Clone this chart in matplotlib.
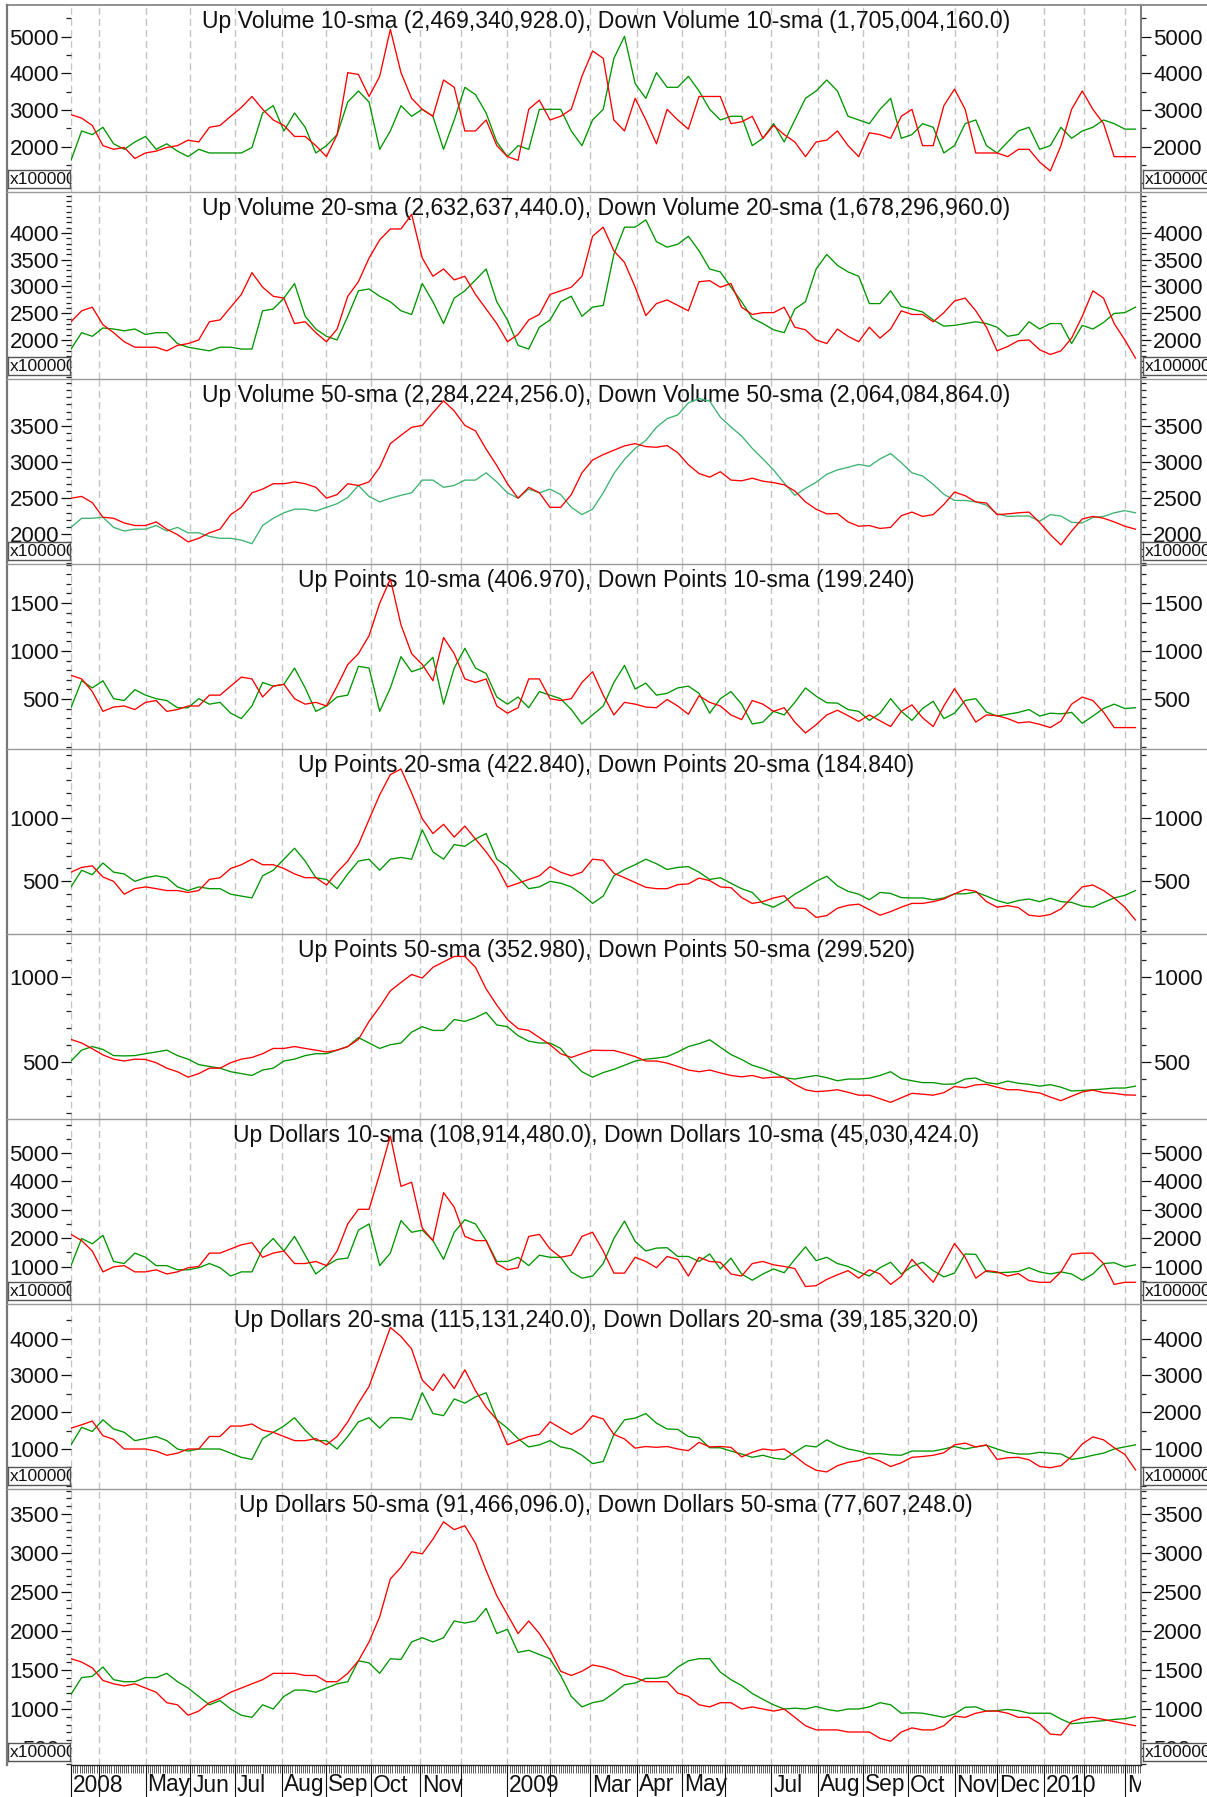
import numpy as np
import pandas as pd
import matplotlib
matplotlib.use('Agg')
import matplotlib.pyplot as plt
from matplotlib.ticker import FixedLocator, MultipleLocator
from matplotlib.lines import Line2D

plt.rcParams['font.family'] = ['Liberation Sans', 'DejaVu Sans']

# ---------------- data (sampled every 5 trading days) ----------------
up_vol_10 = [1630, 2430, 2330, 2530, 2080, 1930, 2130, 2280, 1930, 2080, 1880, 1730, 1930, 1830, 1830, 1830, 1830, 1980, 2920, 3120,
             2430, 2920, 2530, 1830, 2030, 2330, 3220, 3520, 3220, 1930, 2430, 3120, 2830, 3020, 2830, 1930, 2730, 3620, 3420, 2920,
             2130, 1730, 2030, 1930, 3020, 3020, 3020, 2430, 2030, 2730,
             3020, 4410, 5010, 3720, 3320, 4020, 3620, 3620, 3920, 3520, 3020, 2730, 2830, 2830, 2030, 2230, 2630, 2130, 2730, 3320,
             3520, 3820, 3520, 2830, 2730, 2630, 3020, 3320, 2230, 2330, 2630, 2530, 1830, 2030, 2630, 2730, 2030, 1830, 2130, 2430,
             2530, 1930, 2030, 2530, 2230, 2430, 2530, 2730, 2630, 2480, 2480]
down_vol_10 = [2875, 2780, 2580, 2030, 1930, 1980, 1680, 1830, 1880, 1980, 2030, 2180, 2130, 2530, 2580, 2830, 3070, 3370, 3020, 2730,
               2580, 2280, 2280, 2030, 1730, 2330, 4020, 3970, 3370, 3920, 5200, 4020, 3320, 3020, 2830, 3820, 3620, 2430, 2430, 2730,
               2030, 1730, 1630, 3020, 3270, 2730, 2830, 3020, 3920, 4610,
               4410, 2730, 2430, 3320, 2730, 2080, 3020, 2730, 2480, 3370, 3370, 3370, 2630, 2680, 2830, 2230, 2580, 2330, 2130, 1730,
               2130, 2180, 2430, 2030, 1730, 2380, 2330, 2230, 2830, 3020, 2030, 2030, 3120, 3570, 3020, 1830, 1830, 1830, 1730, 1930,
               1930, 1580, 1340, 2030, 3020, 3520, 3020, 2630, 1730, 1730, 1730]

up_vol_20 = [1831, 2137, 2069, 2225, 2205, 2171, 2205, 2103, 2137, 2137, 1933, 1865, 1831, 1797, 1865, 1865, 1831, 1831, 2545, 2579,
             2783, 3055, 2443, 2205, 2069, 2001, 2443, 2919, 2953, 2817, 2715, 2545, 2477, 3055, 2715, 2307, 2783, 2919, 3123, 3327,
             2715, 2375, 1899, 1831, 2239, 2375, 2715, 2817, 2443, 2613,
             2647, 3599, 4109, 4109, 4245, 3837, 3735, 3789, 3939, 3667, 3327, 3272, 2987, 2715, 2409, 2307, 2191, 2137, 2579, 2715,
             3327, 3599, 3395, 3272, 3191, 2681, 2681, 2919, 2626, 2579, 2524, 2375, 2259, 2273, 2307, 2341, 2307, 2239, 2069, 2103,
             2341, 2205, 2307, 2307, 1933, 2273, 2205, 2327, 2497, 2511, 2613]
down_vol_20 = [2341, 2545, 2613, 2286, 2137, 1967, 1865, 1865, 1865, 1797, 1899, 1933, 2001, 2341, 2375, 2613, 2851, 3259, 2987, 2817,
               2783, 2307, 2341, 2137, 1967, 2205, 2817, 3089, 3531, 3871, 4075, 4075, 4347, 3531, 3191, 3327, 3123, 3191, 2851, 2579,
               2307, 1967, 2103, 2375, 2477, 2851, 2919, 2987, 3191, 3939,
               4109, 3667, 3449, 2987, 2456, 2681, 2749, 2647, 2545, 3089, 3109, 2987, 3055, 2613, 2477, 2511, 2511, 2613, 2239, 2191,
               2001, 1933, 2205, 2069, 1967, 2239, 2035, 2205, 2545, 2477, 2477, 2341, 2511, 2729, 2783, 2545, 2239, 1797, 1879, 1987,
               2001, 1817, 1729, 1797, 2035, 2443, 2919, 2783, 2307, 2001, 1661]

up_vol_50 = [2096, 2222, 2222, 2237, 2096, 2046, 2071, 2071, 2122, 2046, 2096, 2021, 2021, 1971, 1945, 1945, 1920, 1870, 2122, 2222,
             2298, 2348, 2348, 2323, 2374, 2424, 2510, 2676, 2525, 2449, 2500, 2540, 2575, 2751, 2751, 2651, 2676, 2751, 2751, 2852,
             2726, 2575, 2500, 2626, 2575, 2626, 2550, 2374, 2273, 2348,
             2575, 2842, 3038, 3190, 3300, 3482, 3603, 3653, 3820, 3880, 3845, 3623, 3487, 3361, 3190, 3044, 2892, 2711, 2540, 2636,
             2721, 2832, 2892, 2928, 2968, 2943, 3044, 3119, 2993, 2852, 2807, 2691, 2555, 2469, 2469, 2449, 2404, 2283, 2248, 2253,
             2253, 2182, 2273, 2253, 2167, 2157, 2233, 2248, 2298, 2328, 2298]
down_vol_50 = [2500, 2525, 2439, 2237, 2222, 2157, 2122, 2122, 2172, 2071, 1996, 1895, 1945, 2021, 2071, 2273, 2374, 2575, 2626, 2701,
               2701, 2726, 2701, 2651, 2500, 2550, 2701, 2676, 2726, 2928, 3256, 3371, 3482, 3508, 3684, 3850, 3709, 3508, 3432, 3180,
               2953, 2701, 2500, 2651, 2575, 2374, 2374, 2550, 2852, 3029,
               3104, 3165, 3225, 3256, 3215, 3205, 3230, 3130, 2963, 2842, 2792, 2867, 2751, 2741, 2777, 2736, 2716, 2686, 2600, 2449,
               2348, 2283, 2288, 2172, 2112, 2122, 2081, 2096, 2258, 2308, 2248, 2273, 2414, 2585, 2535, 2449, 2434, 2273, 2283, 2298,
               2308, 2162, 1996, 1854, 2046, 2213, 2248, 2223, 2172, 2112, 2071]

up_pts_10 = [409, 690, 615, 690, 503, 484, 597, 540, 503, 484, 409, 409, 503, 446, 465, 352, 296, 427, 672, 634,
             653, 822, 615, 371, 427, 521, 540, 840, 822, 371, 615, 941, 784, 822, 934, 446, 822, 1028, 822, 765,
             521, 446, 521, 409, 577, 540, 503, 390, 240, 334,
             427, 672, 850, 604, 665, 540, 559, 615, 634, 559, 352, 503, 577, 446, 240, 259, 371, 334, 465, 615,
             529, 461, 457, 390, 371, 277, 352, 503, 371, 277, 401, 476, 296, 352, 484, 503, 364, 322, 341, 360,
             390, 322, 352, 345, 360, 247, 322, 401, 446, 401, 409]
down_pts_10 = [747, 709, 578, 371, 416, 427, 390, 465, 484, 371, 390, 427, 427, 540, 540, 634, 728, 709, 521, 634,
               653, 503, 446, 465, 427, 634, 859, 972, 1159, 1497, 1750, 1272, 972, 859, 690, 1140, 972, 709, 672, 709,
               427, 352, 409, 709, 709, 503, 484, 503, 672, 784,
               540, 334, 465, 446, 416, 409, 495, 427, 341, 533, 465, 427, 334, 285, 484, 446, 371, 409, 259, 146,
               232, 334, 383, 326, 266, 334, 273, 213, 371, 439, 304, 213, 427, 607, 439, 259, 334, 326, 296, 251,
               262, 236, 202, 270, 446, 520, 484, 363, 202, 202, 202]

up_pts_20 = [453, 585, 550, 643, 570, 556, 497, 526, 541, 526, 453, 424, 453, 439, 439, 395, 380, 366, 541, 585,
             673, 760, 658, 526, 512, 439, 556, 658, 673, 585, 673, 687, 673, 906, 731, 673, 789, 775, 833, 877,
             673, 614, 526, 439, 453, 497, 482, 453, 395, 322,
             380, 541, 591, 629, 673, 637, 591, 608, 614, 570, 512, 526, 482, 439, 409, 322, 292, 336, 395, 444,
             497, 538, 462, 418, 395, 351, 409, 401, 368, 365, 365, 351, 365, 398, 398, 412, 380, 345, 322, 345,
             357, 336, 363, 336, 330, 301, 292, 330, 365, 386, 424]
down_pts_20 = [570, 608, 620, 532, 497, 395, 439, 453, 439, 424, 424, 409, 424, 512, 526, 599, 629, 673, 629, 629,
               599, 556, 526, 526, 468, 570, 658, 789, 988, 1184, 1345, 1389, 1199, 994, 877, 950, 848, 936, 833, 731,
               614, 453, 482, 512, 541, 614, 570, 541, 570, 673,
               664, 561, 526, 488, 450, 439, 439, 471, 477, 523, 503, 453, 447, 368, 322, 336, 365, 383, 287, 281,
               211, 225, 284, 307, 316, 272, 228, 257, 292, 322, 322, 336, 357, 398, 433, 418, 336, 292, 304, 289,
               228, 219, 234, 278, 365, 453, 468, 424, 365, 292, 190]

up_pts_50 = [506, 570, 591, 574, 538, 536, 538, 549, 559, 570, 538, 517, 485, 474, 464, 443, 432, 421, 453, 464,
             506, 517, 538, 549, 549, 570, 591, 644, 612, 580, 602, 612, 676, 708, 686, 686, 750, 739, 761, 792,
             718, 708, 655, 623, 612, 612, 580, 506, 443, 411,
             438, 457, 481, 506, 517, 523, 532, 559, 591, 608, 631, 587, 544, 515, 481, 462, 438, 408, 400, 411,
             421, 408, 390, 400, 400, 405, 421, 443, 402, 390, 379, 379, 369, 371, 400, 406, 379, 371, 388, 375,
             369, 358, 367, 352, 330, 333, 337, 341, 347, 347, 358]
down_pts_50 = [633, 612, 578, 542, 517, 506, 517, 515, 496, 464, 443, 411, 432, 464, 464, 496, 517, 527, 549, 580,
               580, 591, 580, 570, 559, 570, 591, 633, 739, 824, 919, 968, 1015, 994, 1057, 1089, 1121, 1121, 1057, 930,
               835, 750, 697, 686, 644, 602, 549, 527, 549, 570,
               568, 568, 551, 532, 506, 506, 494, 474, 453, 443, 453, 436, 421, 413, 421, 405, 411, 411, 369, 337,
               326, 330, 337, 322, 305, 305, 284, 263, 290, 316, 311, 305, 320, 356, 349, 366, 369, 352, 337, 337,
               326, 318, 294, 273, 299, 324, 335, 320, 316, 307, 305]

up_dol_10 = [1031, 1987, 1800, 2100, 1178, 1105, 1472, 1325, 1031, 1031, 884, 884, 958, 1105, 958, 664, 811, 811, 1619, 1987,
             1546, 2060, 1399, 737, 1031, 1252, 1296, 2281, 2501, 1031, 1472, 2619, 2207, 2281, 1913, 1252, 2207, 2648, 2501, 1913,
             1178, 1178, 1325, 1031, 1399, 1325, 1325, 811, 590, 664,
             1105, 1987, 2600, 1884, 1546, 1649, 1663, 1354, 1354, 1178, 1443, 913, 1296, 737, 516, 737, 913, 781, 1252, 1693,
             1207, 1325, 1105, 1002, 811, 664, 958, 1149, 737, 1002, 1149, 855, 634, 767, 1443, 1428, 825, 781, 796, 825,
             958, 811, 737, 811, 737, 516, 737, 1105, 1134, 987, 1060]
down_dol_10 = [2134, 1913, 1546, 811, 987, 1031, 811, 811, 884, 737, 811, 958, 1002, 1472, 1472, 1619, 1766, 1840, 1325, 1472,
               1546, 1105, 1105, 1178, 1031, 1546, 2501, 3016, 3016, 4265, 5600, 3824, 3971, 2354, 1913, 3604, 3089, 2060, 1913, 1913,
               1105, 884, 958, 2060, 2134, 1619, 1325, 1399, 2060, 2207,
               1546, 767, 767, 1325, 1178, 958, 1354, 1252, 664, 1325, 1178, 1149, 737, 664, 1105, 1178, 1060, 1002, 928, 296,
               325, 546, 708, 855, 590, 884, 737, 370, 649, 1252, 840, 443, 1105, 1810, 1325, 590, 855, 811, 664, 752,
               502, 443, 443, 811, 1428, 1472, 1472, 1105, 370, 443, 443]

up_dol_20 = [1113, 1589, 1476, 1793, 1544, 1453, 1227, 1283, 1340, 1227, 1000, 944, 1000, 1000, 1000, 887, 774, 717, 1283, 1453,
             1623, 1849, 1510, 1227, 1227, 1000, 1340, 1736, 1849, 1566, 1849, 1849, 1793, 2528, 1962, 1906, 2359, 2245, 2415, 2528,
             1793, 1566, 1283, 1057, 1113, 1227, 1057, 1000, 830, 604,
             661, 1396, 1793, 1838, 1962, 1702, 1544, 1532, 1340, 1306, 1034, 1034, 944, 864, 774, 830, 751, 717, 910, 1091,
             1057, 1249, 1102, 1000, 944, 864, 876, 842, 830, 944, 944, 944, 1000, 1068, 1000, 1057, 1102, 1000, 910, 864,
             864, 910, 887, 864, 717, 762, 830, 887, 1000, 1057, 1113]
down_dol_20 = [1566, 1657, 1759, 1362, 1261, 1000, 1000, 1000, 944, 830, 887, 1000, 1000, 1340, 1340, 1623, 1623, 1679, 1510, 1453,
               1340, 1227, 1227, 1283, 1113, 1340, 1736, 2245, 2698, 3491, 4300, 4057, 3717, 2868, 2585, 3038, 2642, 3151, 2585, 2132,
               1793, 1113, 1227, 1340, 1396, 1736, 1566, 1396, 1566, 1906,
               1815, 1396, 1272, 1023, 1068, 1045, 1068, 1000, 955, 1181, 1057, 1068, 1045, 785, 910, 1000, 966, 1000, 808, 581,
               423, 378, 547, 638, 683, 774, 672, 525, 627, 774, 796, 830, 898, 1113, 1159, 1057, 1113, 717, 762, 774,
               706, 525, 491, 547, 796, 1136, 1329, 1249, 1034, 853, 434]

up_dol_50 = [1188, 1403, 1419, 1538, 1376, 1350, 1350, 1403, 1403, 1457, 1350, 1269, 1161, 1054, 1108, 1000, 920, 893, 1054, 1000,
             1161, 1242, 1242, 1215, 1269, 1323, 1350, 1618, 1591, 1457, 1645, 1635, 1860, 1914, 1860, 1914, 2129, 2102, 2129, 2290,
             1968, 2022, 1726, 1753, 1699, 1645, 1430, 1161, 1027, 1081,
             1108, 1204, 1312, 1333, 1393, 1393, 1419, 1538, 1618, 1645, 1645, 1473, 1376, 1301, 1199, 1124, 1054, 1000, 1011, 1000,
             1032, 995, 973, 1000, 1000, 1027, 1081, 1054, 946, 952, 946, 920, 893, 936, 1022, 1027, 973, 979, 995, 979,
             946, 946, 946, 871, 812, 823, 839, 850, 866, 876, 903]
down_dol_50 = [1645, 1602, 1527, 1366, 1323, 1296, 1323, 1269, 1215, 1081, 1054, 920, 973, 1081, 1135, 1215, 1269, 1323, 1376, 1457,
               1457, 1457, 1430, 1430, 1350, 1350, 1457, 1618, 1860, 2183, 2667, 2817, 3016, 2989, 3177, 3400, 3300, 3350, 3124, 2774,
               2452, 2210, 1968, 2129, 1968, 1753, 1484, 1430, 1484, 1565,
               1538, 1495, 1430, 1403, 1350, 1350, 1350, 1204, 1161, 1054, 1027, 1081, 1081, 1000, 1027, 1000, 973, 1000, 893, 785,
               732, 732, 732, 705, 705, 705, 624, 586, 705, 758, 732, 732, 785, 909, 893, 946, 973, 973, 946, 893,
               893, 812, 678, 667, 839, 882, 893, 866, 839, 812, 785]

titles = [
    "Up Volume 10-sma (2,469,340,928.0), Down Volume 10-sma (1,705,004,160.0)",
    "Up Volume 20-sma (2,632,637,440.0), Down Volume 20-sma (1,678,296,960.0)",
    "Up Volume 50-sma (2,284,224,256.0), Down Volume 50-sma (2,064,084,864.0)",
    "Up Points 10-sma (406.970), Down Points 10-sma (199.240)",
    "Up Points 20-sma (422.840), Down Points 20-sma (184.840)",
    "Up Points 50-sma (352.980), Down Points 50-sma (299.520)",
    "Up Dollars 10-sma (108,914,480.0), Down Dollars 10-sma (45,030,424.0)",
    "Up Dollars 20-sma (115,131,240.0), Down Dollars 20-sma (39,185,320.0)",
    "Up Dollars 50-sma (91,466,096.0), Down Dollars 50-sma (77,607,248.0)",
]
up_series = [up_vol_10, up_vol_20, up_vol_50, up_pts_10, up_pts_20, up_pts_50, up_dol_10, up_dol_20, up_dol_50]
down_series = [down_vol_10, down_vol_20, down_vol_50, down_pts_10, down_pts_20, down_pts_50, down_dol_10, down_dol_20, down_dol_50]

# trading calendar (NYSE holidays)
holidays = ['2008-03-21', '2008-05-26', '2008-07-04', '2008-09-01', '2008-11-27', '2008-12-25',
            '2009-01-01', '2009-01-19', '2009-02-16', '2009-04-10', '2009-05-25', '2009-07-03',
            '2009-09-07', '2009-11-26', '2009-12-25', '2010-01-01', '2010-01-18', '2010-02-15']
days = pd.bdate_range('2008-03-12', '2010-03-12', freq='C', holidays=holidays)
hidden_labels = ['2008-04', '2008-12', '2009-02', '2009-06', '2010-02']
SAMPLE_STEP = 5

# ---------------- layout ----------------
W, H, DPI = 1207, 1797, 100
L, R = 71, 1141
XMAX = 502.6
bounds = [(5, 192), (192, 379), (379, 564), (564, 749), (749, 934), (934, 1119), (1119, 1304), (1304, 1489), (1489, 1765)]
ylims = [(766, 5864), (1271, 4766), (1589, 4151), (-21, 1906), (79, 1548), (165, 1253), (-321, 6198), (-86, 4937), (282, 3821)]
majors = [[2000, 3000, 4000, 5000], [2000, 2500, 3000, 3500, 4000], [2000, 2500, 3000, 3500],
          [500, 1000, 1500], [500, 1000], [500, 1000],
          [1000, 2000, 3000, 4000, 5000], [1000, 2000, 3000, 4000], [500, 1000, 1500, 2000, 2500, 3000, 3500]]
minor_steps = [500, 100, 100, 100, 100, 100, 500, 500, 100]
box_panels = [0, 1, 2, 6, 7, 8]

RED = '#ff0000'
GREEN = '#009600'
GREEN_LIGHT = '#3cb371'
GRID = '#c4c4c4'

fig = plt.figure(figsize=(W / DPI, H / DPI), dpi=DPI)
fig.patch.set_facecolor('white')


def frac_rect(x0, x1, y0, y1):
    return [x0 / W, 1 - y1 / H, (x1 - x0) / W, (y1 - y0) / H]


def fig_line(x0, y0, x1, y1, color, lw, z=30):
    fig.add_artist(Line2D([x0 / W, x1 / W], [1 - y0 / H, 1 - y1 / H], transform=fig.transFigure,
                          color=color, lw=lw, zorder=z))


# month ticks
pos = pd.Series(np.arange(len(days)), index=days)
firsts = pos.groupby([days.year, days.month]).first()
month_idx, month_lab = [], []
for (yy, mm), idx in firsts.items():
    if idx == 0:
        continue
    month_idx.append(int(idx))
    key = f'{yy}-{mm:02d}'
    if key in hidden_labels:
        month_lab.append('')
    elif mm == 1:
        month_lab.append(str(yy))
    else:
        month_lab.append(pd.Timestamp(yy, mm, 1).strftime('%b'))
grid_idx = [0] + month_idx
label_idx = [0] + month_idx
label_txt = [str(days[0].year)] + month_lab

axes = []
for i, (top, bot) in enumerate(bounds):
    ax = fig.add_axes(frac_rect(L, R, top, bot))
    ax.set_facecolor('white')
    ax.set_xlim(0, XMAX)
    ax.set_ylim(*ylims[i])
    for g in grid_idx:
        ax.axvline(g, color=GRID, lw=1.0, ls=(0, (5, 3)), zorder=0)
    up = up_series[i]
    dn = down_series[i]
    ax.plot(np.arange(len(up)) * SAMPLE_STEP, up, color=GREEN_LIGHT if i == 2 else GREEN, lw=0.95, zorder=3)
    ax.plot(np.arange(len(dn)) * SAMPLE_STEP, dn, color=RED, lw=0.95, zorder=3)
    ax.text(0.5, 1 - 23 / (bot - top), titles[i], transform=ax.transAxes, ha='center', va='baseline',
            fontsize=16.6, color='#111111', zorder=2)

    ax.yaxis.set_major_locator(FixedLocator(majors[i]))
    ax.yaxis.set_minor_locator(MultipleLocator(minor_steps[i]))
    ax.set_yticklabels([str(v) for v in majors[i]])
    ax.tick_params(axis='y', which='major', left=True, right=True, labelleft=True, labelright=True,
                   direction='out', length=7.2, width=0.9, pad=1.5, labelsize=16, colors='#111111')
    ax.tick_params(axis='y', which='minor', left=True, right=True, direction='out', length=3.6,
                   width=0.9, color='#222222')
    for side in ['left', 'top', 'bottom']:
        ax.spines[side].set_visible(False)
    ax.spines['right'].set_color('#666666')
    ax.spines['right'].set_linewidth(1.2)

    if i < len(bounds) - 1:
        ax.set_xticks([])
        ax.tick_params(axis='x', which='both', bottom=False, labelbottom=False)
    else:
        ax.spines['bottom'].set_visible(True)
        ax.spines['bottom'].set_color('#222222')
        ax.spines['bottom'].set_linewidth(1.0)
        ax.xaxis.set_major_locator(FixedLocator(grid_idx))
        ax.xaxis.set_minor_locator(FixedLocator(np.arange(len(days))))
        ax.tick_params(axis='x', which='major', length=23, width=0.8, color='#111111', labelbottom=False)
        ax.tick_params(axis='x', which='minor', length=5.8, width=0.6, color='#444444')
    axes.append(ax)

# multiplier boxes
for i in box_panels:
    top, bot = bounds[i]
    for (x0, x1) in [(8, 70), (1143, 1215)]:
        bx = fig.add_axes(frac_rect(x0, x1, bot - 22, bot - 4))
        bx.set_xticks([])
        bx.set_yticks([])
        bx.set_facecolor('white')
        for s in bx.spines.values():
            s.set_color('#555555')
            s.set_linewidth(1.0)
        bx.set_zorder(20)
        bx.text(2.0 / (x1 - x0), 0.45, 'x100000', transform=bx.transAxes, ha='left', va='center',
                fontsize=12.5, color='#111111', clip_on=True)

# bottom date labels
lab_ax = fig.add_axes(frac_rect(L, R, 1765, H))
lab_ax.set_xlim(0, XMAX)
lab_ax.set_ylim(0, 1)
lab_ax.axis('off')
for idx, txt in zip(label_idx, label_txt):
    if txt:
        lab_ax.text(idx + 0.9, 1 - 8.5 / 32, txt, ha='left', va='top', fontsize=16.4, color='#111111', clip_on=True)

# frame and dividers
fig_line(7, 5, 1207, 5, '#888888', 1.3)
fig_line(7, 5, 7, 1765, '#777777', 1.6)
for top, bot in bounds[:-1]:
    fig_line(7, bot, 1207, bot, '#999999', 1.0)

fig.savefig('out.png', dpi=DPI)
